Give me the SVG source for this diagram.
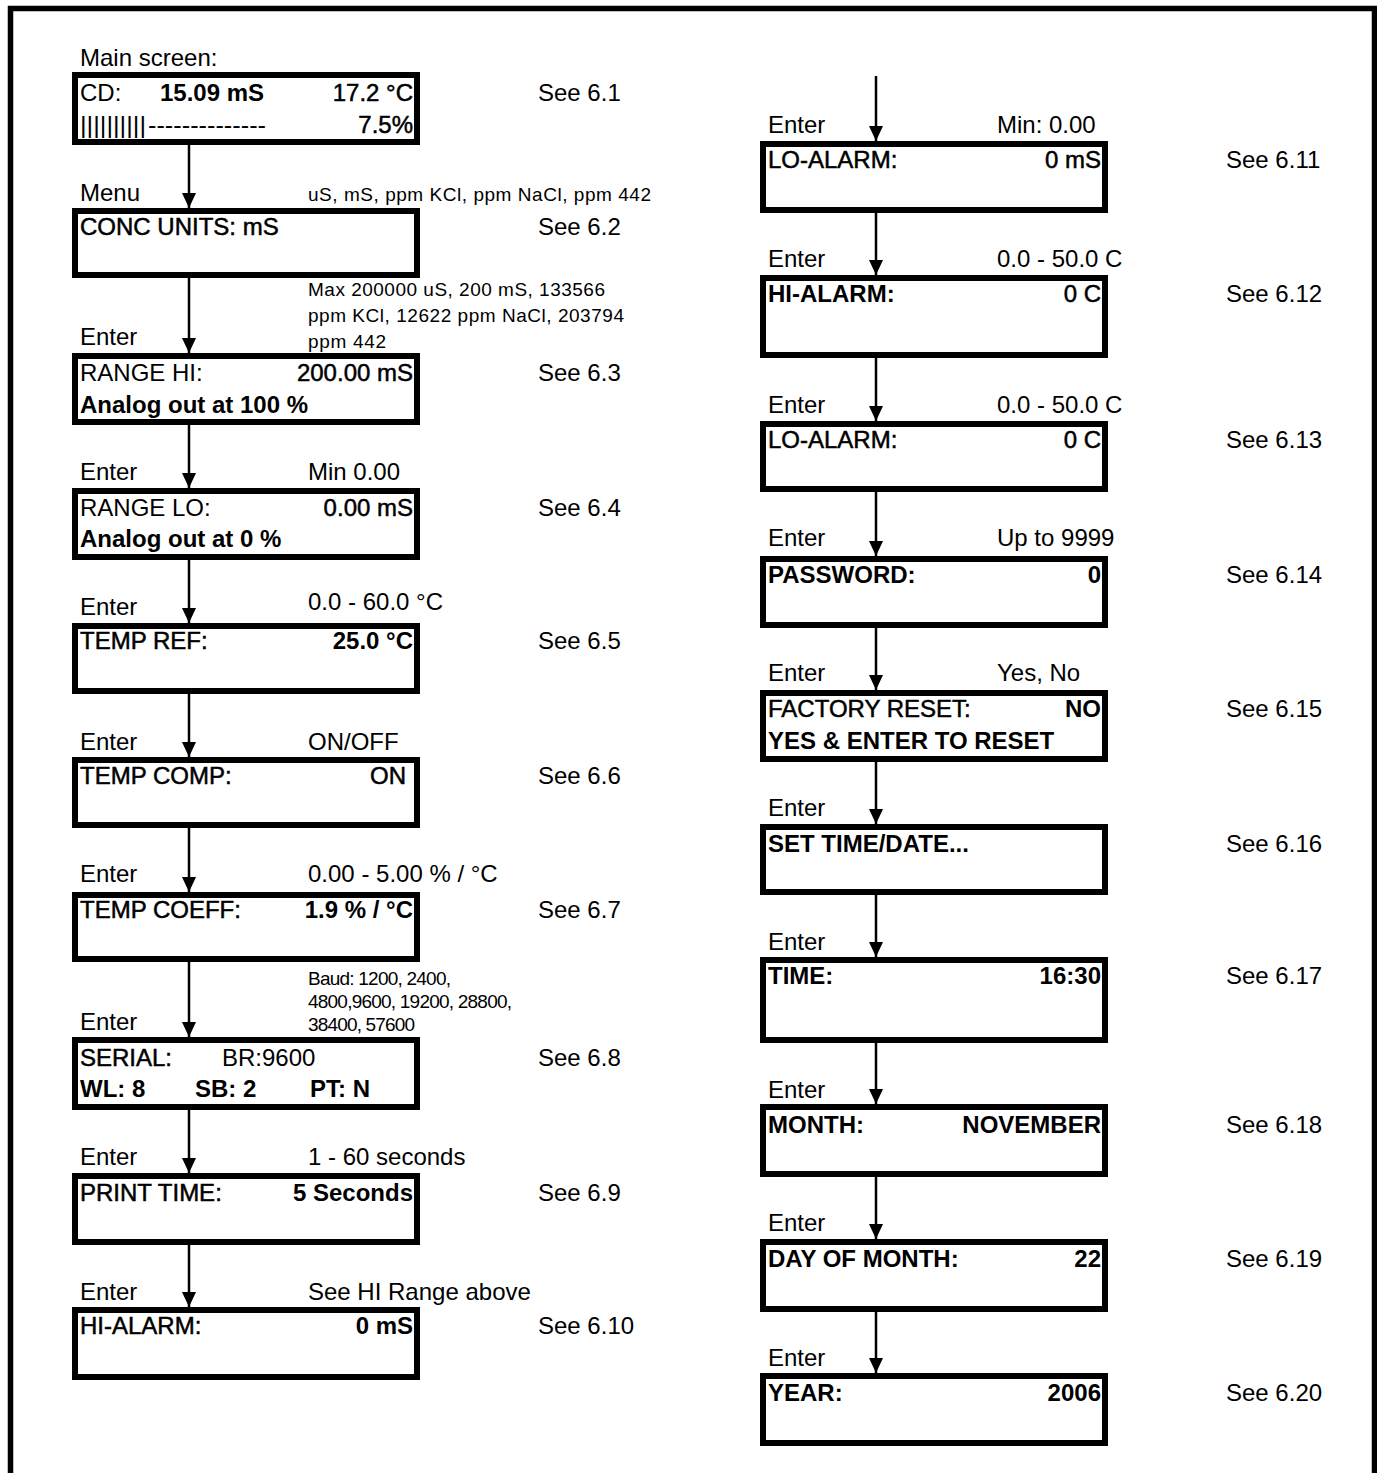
<svg xmlns="http://www.w3.org/2000/svg" width="1377" height="1473" viewBox="0 0 1377 1473">
<style>
text{font-family:"Liberation Sans",Arial,sans-serif;font-size:24px;fill:#000}
.md{stroke:#000;stroke-width:0.5}
.b{font-weight:bold}
.e{text-anchor:end}
.n{font-size:19px}
.box{fill:#fff;stroke:#000;stroke-width:6}
.arr{stroke:#000;stroke-width:2.5;fill:none;marker-end:url(#ah)}
</style>
<defs>
<marker id="ah" markerUnits="userSpaceOnUse" markerWidth="16" markerHeight="14" refX="15" refY="7" orient="auto">
<path d="M0,0 L15,7 L0,14 z" fill="#000"/>
</marker>
</defs>
<rect x="0" y="0" width="1377" height="1473" fill="#fff"/>
<rect x="10.5" y="8.5" width="1364" height="1500" fill="none" stroke="#000" stroke-width="5.5"/>

<g id="connectors">
<line class="arr" x1="189" y1="145" x2="189" y2="208"/>
<line class="arr" x1="189" y1="278" x2="189" y2="353"/>
<line class="arr" x1="189" y1="425" x2="189" y2="488"/>
<line class="arr" x1="189" y1="560" x2="189" y2="623"/>
<line class="arr" x1="189" y1="694" x2="189" y2="757"/>
<line class="arr" x1="189" y1="828" x2="189" y2="892"/>
<line class="arr" x1="189" y1="962" x2="189" y2="1037"/>
<line class="arr" x1="189" y1="1110" x2="189" y2="1173"/>
<line class="arr" x1="189" y1="1245" x2="189" y2="1307"/>
<line class="arr" x1="876" y1="76" x2="876" y2="141"/>
<line class="arr" x1="876" y1="213" x2="876" y2="275"/>
<line class="arr" x1="876" y1="358" x2="876" y2="421"/>
<line class="arr" x1="876" y1="492" x2="876" y2="556"/>
<line class="arr" x1="876" y1="628" x2="876" y2="690"/>
<line class="arr" x1="876" y1="762" x2="876" y2="824"/>
<line class="arr" x1="876" y1="895" x2="876" y2="957"/>
<line class="arr" x1="876" y1="1043" x2="876" y2="1104"/>
<line class="arr" x1="876" y1="1177" x2="876" y2="1239"/>
<line class="arr" x1="876" y1="1312" x2="876" y2="1373"/>
</g>

<g id="labels">
<text x="80" y="66">Main screen:</text>
<text x="80" y="201">Menu</text>
<text x="80" y="345">Enter</text>
<text x="80" y="480">Enter</text>
<text x="80" y="615">Enter</text>
<text x="80" y="750">Enter</text>
<text x="80" y="882">Enter</text>
<text x="80" y="1030">Enter</text>
<text x="80" y="1165">Enter</text>
<text x="80" y="1300">Enter</text>
<text class="n" x="308" y="201" textLength="343" lengthAdjust="spacing">uS, mS, ppm KCl, ppm NaCl, ppm 442</text>
<text class="n" x="308" y="296" textLength="297" lengthAdjust="spacing">Max 200000 uS, 200 mS, 133566</text>
<text class="n" x="308" y="322" textLength="316" lengthAdjust="spacing">ppm KCl, 12622 ppm NaCl, 203794</text>
<text class="n" x="308" y="348" textLength="78" lengthAdjust="spacing">ppm 442</text>
<text x="308" y="480">Min 0.00</text>
<text x="308" y="610">0.0 - 60.0 °C</text>
<text x="308" y="750">ON/OFF</text>
<text x="308" y="882">0.00 - 5.00 % / °C</text>
<text class="n" x="308" y="985" textLength="143" lengthAdjust="spacing">Baud: 1200, 2400,</text>
<text class="n" x="308" y="1008" textLength="204" lengthAdjust="spacing">4800,9600, 19200, 28800,</text>
<text class="n" x="308" y="1031" textLength="107" lengthAdjust="spacing">38400, 57600</text>
<text x="308" y="1165">1 - 60 seconds</text>
<text x="308" y="1300">See HI Range above</text>
<text x="538" y="101">See 6.1</text>
<text x="538" y="235">See 6.2</text>
<text x="538" y="381">See 6.3</text>
<text x="538" y="516">See 6.4</text>
<text x="538" y="649">See 6.5</text>
<text x="538" y="784">See 6.6</text>
<text x="538" y="918">See 6.7</text>
<text x="538" y="1066">See 6.8</text>
<text x="538" y="1201">See 6.9</text>
<text x="538" y="1334">See 6.10</text>

<text x="768" y="133">Enter</text>
<text x="768" y="267">Enter</text>
<text x="768" y="413">Enter</text>
<text x="768" y="546">Enter</text>
<text x="768" y="681">Enter</text>
<text x="768" y="816">Enter</text>
<text x="768" y="950">Enter</text>
<text x="768" y="1098">Enter</text>
<text x="768" y="1231">Enter</text>
<text x="768" y="1366">Enter</text>
<text x="997" y="133">Min: 0.00</text>
<text x="997" y="267">0.0 - 50.0 C</text>
<text x="997" y="413">0.0 - 50.0 C</text>
<text x="997" y="546">Up to 9999</text>
<text x="997" y="681">Yes, No</text>
<text x="1226" y="168">See 6.11</text>
<text x="1226" y="302">See 6.12</text>
<text x="1226" y="448">See 6.13</text>
<text x="1226" y="583">See 6.14</text>
<text x="1226" y="717">See 6.15</text>
<text x="1226" y="852">See 6.16</text>
<text x="1226" y="984">See 6.17</text>
<text x="1226" y="1133">See 6.18</text>
<text x="1226" y="1267">See 6.19</text>
<text x="1226" y="1401">See 6.20</text>
</g>

<g id="n1">
<rect class="box" x="75" y="75" width="342" height="67"/>
<text x="80" y="101">CD:</text>
<text class="b" x="160" y="101">15.09 mS</text>
<text class="e md" x="413" y="101">17.2 °C</text>
<text x="80" y="133" textLength="66" lengthAdjust="spacingAndGlyphs">||||||||||</text>
<text x="148" y="133" textLength="118" lengthAdjust="spacingAndGlyphs">--------------</text>
<text class="e md" x="413" y="133">7.5%</text>
</g>
<g id="n2">
<rect class="box" x="75" y="211" width="342" height="64"/>
<text class="md" x="80" y="235">CONC UNITS: mS</text>
</g>
<g id="n3">
<rect class="box" x="75" y="356" width="342" height="66"/>
<text x="80" y="381">RANGE HI:</text>
<text class="e md" x="413" y="381">200.00 mS</text>
<text class="b" x="80" y="413">Analog out at 100 %</text>
</g>
<g id="n4">
<rect class="box" x="75" y="491" width="342" height="66"/>
<text x="80" y="516">RANGE LO:</text>
<text class="e md" x="413" y="516">0.00 mS</text>
<text class="b" x="80" y="547">Analog out at 0 %</text>
</g>
<g id="n5">
<rect class="box" x="75" y="626" width="342" height="65"/>
<text class="md" x="80" y="649">TEMP REF:</text>
<text class="e b" x="413" y="649">25.0 °C</text>
</g>
<g id="n6">
<rect class="box" x="75" y="760" width="342" height="65"/>
<text class="md" x="80" y="784">TEMP COMP:</text>
<text class="e md" x="406" y="784">ON</text>
</g>
<g id="n7">
<rect class="box" x="75" y="895" width="342" height="64"/>
<text class="md" x="80" y="918">TEMP COEFF:</text>
<text class="e b" x="413" y="918">1.9 % / °C</text>
</g>
<g id="n8">
<rect class="box" x="75" y="1040" width="342" height="67"/>
<text class="md" x="80" y="1066">SERIAL:</text>
<text x="222" y="1066">BR:9600</text>
<text class="b" x="80" y="1097">WL: 8</text>
<text class="b" x="195" y="1097">SB: 2</text>
<text class="b" x="310" y="1097">PT: N</text>
</g>
<g id="n9">
<rect class="box" x="75" y="1176" width="342" height="66"/>
<text class="md" x="80" y="1201">PRINT TIME:</text>
<text class="e b" x="413" y="1201">5 Seconds</text>
</g>
<g id="n10">
<rect class="box" x="75" y="1310" width="342" height="67"/>
<text class="md" x="80" y="1334">HI-ALARM:</text>
<text class="e b" x="413" y="1334">0 mS</text>
</g>

<g id="n11">
<rect class="box" x="763" y="144" width="342" height="66"/>
<text class="md" x="768" y="168">LO-ALARM:</text>
<text class="e md" x="1101" y="168">0 mS</text>
</g>
<g id="n12">
<rect class="box" x="763" y="278" width="342" height="77"/>
<text class="b" x="768" y="302">HI-ALARM:</text>
<text class="e md" x="1101" y="302">0 C</text>
</g>
<g id="n13">
<rect class="box" x="763" y="424" width="342" height="65"/>
<text class="md" x="768" y="448">LO-ALARM:</text>
<text class="e md" x="1101" y="448">0 C</text>
</g>
<g id="n14">
<rect class="box" x="763" y="559" width="342" height="66"/>
<text class="b" x="768" y="583">PASSWORD:</text>
<text class="e b" x="1101" y="583">0</text>
</g>
<g id="n15">
<rect class="box" x="763" y="693" width="342" height="66"/>
<text class="md" x="768" y="717">FACTORY RESET:</text>
<text class="e b" x="1101" y="717">NO</text>
<text class="b" x="768" y="749">YES &amp; ENTER TO RESET</text>
</g>
<g id="n16">
<rect class="box" x="763" y="827" width="342" height="65"/>
<text class="b" x="768" y="852">SET TIME/DATE...</text>
</g>
<g id="n17">
<rect class="box" x="763" y="960" width="342" height="80"/>
<text class="b" x="768" y="984">TIME:</text>
<text class="e b" x="1101" y="984">16:30</text>
</g>
<g id="n18">
<rect class="box" x="763" y="1107" width="342" height="67"/>
<text class="b" x="768" y="1133">MONTH:</text>
<text class="e b" x="1101" y="1133">NOVEMBER</text>
</g>
<g id="n19">
<rect class="box" x="763" y="1242" width="342" height="67"/>
<text class="b" x="768" y="1267">DAY OF MONTH:</text>
<text class="e b" x="1101" y="1267">22</text>
</g>
<g id="n20">
<rect class="box" x="763" y="1376" width="342" height="67"/>
<text class="b" x="768" y="1401">YEAR:</text>
<text class="e b" x="1101" y="1401">2006</text>
</g>
</svg>
